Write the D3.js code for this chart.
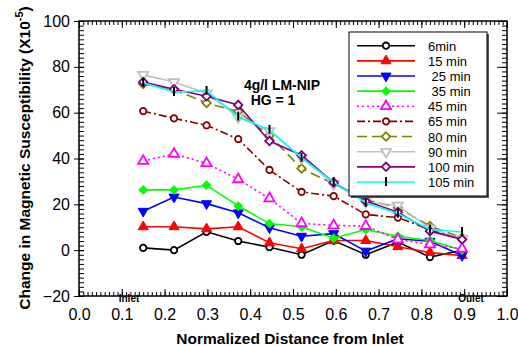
<!DOCTYPE html>
<html>
<head>
<meta charset="utf-8">
<script src="https://cdn.jsdelivr.net/npm/d3@7"></script>
<style>
  body { margin: 0; background: #fff; }
  svg { font-family: Arial, "Liberation Sans", sans-serif; }
</style>
</head>
<body>
<div id="chart"></div>
<script>
// distances along the column (normalized)
const distance = [0.15, 0.222, 0.298, 0.372, 0.445, 0.52, 0.595, 0.67, 0.745, 0.82, 0.895];

const seriesNames = ["6min", "15 min", " 25 min", " 35 min", "45 min", "65 min", "80 min", "90 min", "100 min", "105 min"];

const v6   = [1, 0, 8, 4, 1.3, -2, 4.2, -2, 3.5, -3, 0];
const v15  = [10.2, 10.2, 9.3, 10.2, 3.2, 0.6, 4.2, 4.2, 1.5, -1, -2.4];
const v25  = [17, 23.2, 20.3, 16.3, 9.8, 6.1, 7.2, -0.4, 5, 3.9, -2.3];
const v35  = [26.3, 26.3, 28.3, 19.3, 11.6, 10.2, 5.2, 9, 6.1, 4.2, 0];
const v45  = [38.9, 42, 37.9, 30.9, 22.6, 11.7, 10.8, 10.5, 4.7, 2.5, 0.6];
const v65  = [60.7, 57.5, 54.5, 48.5, 35, 25.4, 23.6, 15.6, 14.2, 9, 5];
const v80  = [72.5, 70.2, 64.2, 60.5, 50, 35.6, 29, 22, 18.5, 10.5, 5.4];
const v90  = [76.5, 73.4, 68.5, 58, 52, 40.3, 29, 21, 19.5, 9.5, 5];
const v100 = [73.4, 70.2, 67.2, 63.4, 47.6, 41.4, 29.5, 21.4, 16.6, 8.3, 4.7];
const v105 = [73, 69, 69.5, 58.3, 52.5, 40.3, 29.7, 20.7, 16, 9, 7.9];

const xTicks = [0.0, 0.1, 0.2, 0.3, 0.4, 0.5, 0.6, 0.7, 0.8, 0.9, 1.0];
const yTicks = [-20, 0, 20, 40, 60, 80, 100];

//Series styling
const styles = [
  {color: "#000000", dash: null,        sym: "circle",  fill: "#fff"},
  {color: "#ff0000", dash: null,        sym: "triUp",   fill: "#ff0000"},
  {color: "#0000ff", dash: null,        sym: "triDown", fill: "#0000ff"},
  {color: "#00ff00", dash: null,        sym: "diamond", fill: "#00ff00"},
  {color: "#ff00ff", dash: "2,3",       sym: "triUp",   fill: "#fff"},
  {color: "#800000", dash: "8,3,2,3",   sym: "circle",  fill: "#fff"},
  {color: "#808000", dash: "10,5",      sym: "diamond", fill: "#fff"},
  {color: "#c0c0c0", dash: null,        sym: "triDown", fill: "#fff"},
  {color: "#800080", dash: null,        sym: "diamond", fill: "#fff"},
  {color: "#00ffff", dash: null,        sym: "tick",    fill: "none"}
];
const allValues = [v6, v15, v25, v35, v45, v65, v80, v90, v100, v105];

const W = 518, H = 346;
const plot = {left: 79, right: 507, top: 21, bottom: 296};

const svg = d3.select("#chart").append("svg")
  .attr("width", W).attr("height", H);

const x = d3.scaleLinear().domain([0, 1]).range([plot.left, plot.right]);
const y = d3.scaleLinear().domain([-20, 100]).range([plot.bottom, plot.top]);

//Frame
svg.append("rect")
  .attr("x", plot.left).attr("y", plot.top)
  .attr("width", plot.right - plot.left).attr("height", plot.bottom - plot.top)
  .attr("fill", "none").attr("stroke", "#000").attr("stroke-width", 1.5);

function tickAxis(axis, transform) {
  let g = svg.append("g").attr("transform", transform).call(axis);
  g.select(".domain").remove();
  g.selectAll("text").remove();
  g.selectAll("line").attr("stroke", "#000").attr("stroke-width", 1);
  return g;
}

const xMinor = d3.range(0, 1.0001, 0.01);
const yMinor = d3.range(-20, 100.001, 2);

//Bottom / top minor + major ticks (inward)
tickAxis(d3.axisTop(x).tickValues(xMinor).tickSize(4), `translate(0,${plot.bottom})`);
tickAxis(d3.axisTop(x).tickValues(xTicks).tickSize(7), `translate(0,${plot.bottom})`);
tickAxis(d3.axisBottom(x).tickValues(xMinor).tickSize(4), `translate(0,${plot.top})`);
tickAxis(d3.axisBottom(x).tickValues(xTicks).tickSize(7), `translate(0,${plot.top})`);
//Left / right
tickAxis(d3.axisRight(y).tickValues(yMinor).tickSize(5), `translate(${plot.left},0)`);
tickAxis(d3.axisRight(y).tickValues(yTicks).tickSize(5), `translate(${plot.left - 5},0)`)
  .selectAll("line").attr("x2", 10);
tickAxis(d3.axisLeft(y).tickValues(yMinor).tickSize(5), `translate(${plot.right},0)`);
tickAxis(d3.axisLeft(y).tickValues(yTicks).tickSize(10), `translate(${plot.right},0)`);

//Tick labels
let xl = svg.append("g").attr("transform", `translate(0,${plot.bottom + 10})`)
  .call(d3.axisBottom(x).tickValues(xTicks).tickSize(0).tickFormat(d3.format(".1f")));
xl.select(".domain").remove();
xl.selectAll("text").attr("font-size", 16).attr("font-family", "Arial, 'Liberation Sans'").attr("fill", "#000").attr("dy", "0.71em");

let yl = svg.append("g").attr("transform", `translate(${plot.left - 6},0)`)
  .call(d3.axisLeft(y).tickValues(yTicks).tickSize(0).tickFormat(d3.format("d")));
yl.select(".domain").remove();
yl.selectAll("text").attr("font-size", 16).attr("font-family", "Arial, 'Liberation Sans'").attr("fill", "#000");

//Axis titles
svg.append("text")
  .attr("x", 290).attr("y", 344)
  .attr("text-anchor", "middle").attr("font-size", 15.5).attr("font-weight", "bold")
  .text("Normalized Distance from Inlet");

let yt = svg.append("text")
  .attr("transform", "translate(30,158) rotate(-90)")
  .attr("text-anchor", "middle").attr("font-size", 15.5).attr("font-weight", "bold");
yt.append("tspan").text("Change in Magnetic Susceptibility (X10");
yt.append("tspan").attr("font-size", 11).attr("dy", -7).text("-5");
yt.append("tspan").attr("dy", 7).text(")");

//Inlet / Outlet labels
svg.append("text").attr("x", 129).attr("y", 302).attr("text-anchor", "middle")
  .attr("font-size", 10).attr("font-weight", "bold").text("Inlet");
svg.append("text").attr("x", 471).attr("y", 302).attr("text-anchor", "middle")
  .attr("font-size", 10).attr("font-weight", "bold").text("Oulet");

//Annotation
svg.append("text").attr("x", 282).attr("y", 90).attr("text-anchor", "middle")
  .attr("font-size", 14).attr("font-weight", "bold").text("4g/l LM-NIP");
svg.append("text").attr("x", 273).attr("y", 105).attr("text-anchor", "middle")
  .attr("font-size", 14).attr("font-weight", "bold").text("HG = 1");

//Marker drawing
function drawMarker(g, st) {
  if (st.sym === "tick") {
    g.append("line").attr("y1", -5).attr("y2", 4).attr("stroke", "#000").attr("stroke-width", 2);
    return;
  }
  let path, rot = 0;
  if (st.sym === "circle") path = d3.symbol(d3.symbolCircle, 32)();
  else if (st.sym === "triUp") path = d3.symbol(d3.symbolTriangle, 44)();
  else if (st.sym === "triDown") { path = d3.symbol(d3.symbolTriangle, 44)(); rot = 180; }
  else if (st.sym === "diamond") { path = d3.symbol(d3.symbolSquare, 36)(); rot = 45; }
  g.append("path").attr("d", path)
    .attr("transform", rot ? `rotate(${rot})` : null)
    .attr("fill", st.fill).attr("stroke", st.color)
    .attr("stroke-width", st.fill === "#fff" ? 1.8 : 1);
}

const line = d3.line().x(d => x(d[0])).y(d => y(d[1]));

allValues.forEach((vals, i) => {
  let st = styles[i];
  let pts = distance.map((d, j) => [d, vals[j]]);
  let g = svg.append("g").attr("class", "series");
  g.append("path").datum(pts)
    .attr("d", line).attr("fill", "none")
    .attr("stroke", st.color).attr("stroke-width", 1.6)
    .attr("stroke-dasharray", st.dash);
  g.selectAll("g.pt").data(pts).enter()
    .append("g").classed("pt", true)
    .attr("transform", d => `translate(${x(d[0])},${y(d[1])})`)
    .each(function () { drawMarker(d3.select(this), st); });
});

//Legend
const lg = svg.append("g");
lg.append("rect").attr("x", 351).attr("y", 34).attr("width", 138).attr("height", 164).attr("fill", "#555");
lg.append("rect").attr("x", 349).attr("y", 32).attr("width", 138).attr("height", 164)
  .attr("fill", "#fff").attr("stroke", "#000").attr("stroke-width", 1);

const rowY = d3.scaleLinear().domain([0, 9]).range([45.7, 182]);
seriesNames.forEach((name, i) => {
  let st = styles[i];
  let r = lg.append("g").attr("transform", `translate(0,${rowY(i)})`);
  r.append("line").attr("x1", 357).attr("x2", 415)
    .attr("stroke", st.color).attr("stroke-width", 1.6).attr("stroke-dasharray", st.dash);
  drawMarker(r.append("g").attr("transform", "translate(386,0)"), st);
  r.append("text").attr("x", 428).attr("y", 5).attr("font-size", 13)
    .attr("xml:space", "preserve").style("white-space", "pre").text(name);
});
</script>
</body>
</html>
